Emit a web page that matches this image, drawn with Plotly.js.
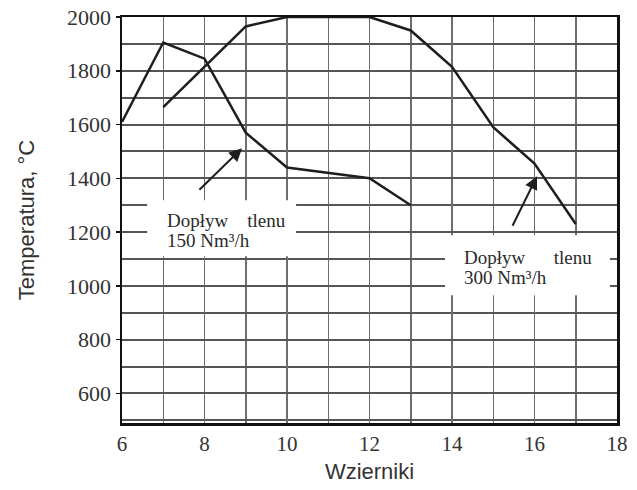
<!DOCTYPE html>
<html>
<head>
<meta charset="utf-8">
<script src="https://cdn.plot.ly/plotly-3.0.1.min.js"></script>
<style>html,body{margin:0;padding:0;background:#fff;}#chart{width:637px;height:490px;}</style>
</head>
<body>
<div id="chart"></div>
<script>
// Series: oxygen supply 150 Nm3/h
const x150 = [6, 7, 8, 9, 10, 12, 13];
const y150 = [1610, 1905, 1845, 1570, 1440, 1400, 1300];
// Series: oxygen supply 300 Nm3/h
const x300 = [7, 9, 10, 12, 13, 14, 15, 16, 17];
const y300 = [1665, 1965, 2000, 2000, 1950, 1815, 1590, 1455, 1230];

const xTickVals = [6, 8, 10, 12, 14, 16, 18];
const xTickText = ['6', '8', '10', '12', '14', '16', '18'];
const yTickVals = [600, 800, 1000, 1200, 1400, 1600, 1800, 2000];
const yTickText = ['600', '800', '1000', '1200', '1400', '1600', '1800', '2000'];

const label150 = ['Dopływ\u00a0\u00a0\u00a0\u00a0tlenu', '150 Nm³/h'];
const label300 = ['Dopływ\u00a0\u00a0\u00a0\u00a0\u00a0\u00a0tlenu', '300 Nm³/h'];

const lineStyle = {color: '#1e1e1e', width: 2.5};
const traces = [
  {x: x150, y: y150, type: 'scatter', mode: 'lines', line: lineStyle, hoverinfo: 'skip'},
  {x: x300, y: y300, type: 'scatter', mode: 'lines', line: lineStyle, hoverinfo: 'skip'}
];

const serif = 'Liberation Serif, Times New Roman, serif';
const sans = 'Liberation Sans, Arial, sans-serif';
const annFont = {family: serif, size: 19, color: '#2a2a2a'};

function textAnn(x, y, t) {
  return {x: x, y: y, xref: 'x', yref: 'y', text: t, showarrow: false,
          xanchor: 'left', yanchor: 'middle', align: 'left', font: annFont};
}

const layout = {
  width: 637, height: 490,
  margin: {l: 122, r: 20, t: 17, b: 67},
  paper_bgcolor: '#fff', plot_bgcolor: '#fff',
  showlegend: false,
  xaxis: {
    range: [6, 18], tickmode: 'array', tickvals: xTickVals, ticktext: xTickText,
    showgrid: true, gridcolor: '#6e6e6e', gridwidth: 1.5,
    minor: {tickmode: 'linear', tick0: 6, dtick: 1, showgrid: true, gridcolor: '#6e6e6e', gridwidth: 1.5},
    showline: true, mirror: true, linecolor: '#111', linewidth: 2.5,
    ticks: '',
    zeroline: false,
    tickfont: {family: serif, size: 21, color: '#333'},
    title: {text: 'Wzierniki', font: {family: sans, size: 22, color: '#333'}, standoff: 9}
  },
  yaxis: {
    range: [490, 2000], tickmode: 'array', tickvals: yTickVals, ticktext: yTickText,
    showgrid: true, gridcolor: '#555', gridwidth: 2,
    minor: {tickmode: 'linear', tick0: 500, dtick: 100, showgrid: true, gridcolor: '#555', gridwidth: 2},
    showline: true, mirror: true, linecolor: '#111', linewidth: 2.5,
    ticks: 'outside', ticklen: 4, tickcolor: '#111', tickwidth: 1.5,
    zeroline: false,
    tickfont: {family: serif, size: 22, color: '#333'},
    title: {text: 'Temperatura, °C', font: {family: sans, size: 22, color: '#333'}, standoff: 27}
  },
  shapes: [
    {type: 'rect', xref: 'x', yref: 'y', x0: 6.61, x1: 10.22, y0: 1110, y1: 1318,
     fillcolor: '#fff', line: {width: 0}, layer: 'above'},
    {type: 'rect', xref: 'x', yref: 'y', x0: 13.83, x1: 17.83, y0: 965, y1: 1188,
     fillcolor: '#fff', line: {width: 0}, layer: 'above'}
  ],
  annotations: [
    textAnn(7.04, 1244, label150[0]),
    textAnn(7.04, 1169, label150[1]),
    textAnn(14.24, 1106, label300[0]),
    textAnn(14.24, 1032, label300[1]),
    {x: 8.91, y: 1512, ax: 7.84, ay: 1352, xref: 'x', yref: 'y', axref: 'x', ayref: 'y',
     text: '', showarrow: true, arrowhead: 2, arrowsize: 1.3, arrowwidth: 2, arrowcolor: '#1e1e1e', standoff: 0},
    {x: 16.06, y: 1408, ax: 15.45, ay: 1218, xref: 'x', yref: 'y', axref: 'x', ayref: 'y',
     text: '', showarrow: true, arrowhead: 2, arrowsize: 1.3, arrowwidth: 2, arrowcolor: '#1e1e1e', standoff: 0}
  ]
};

Plotly.newPlot('chart', traces, layout, {staticPlot: true, displayModeBar: false});
</script>
</body>
</html>
